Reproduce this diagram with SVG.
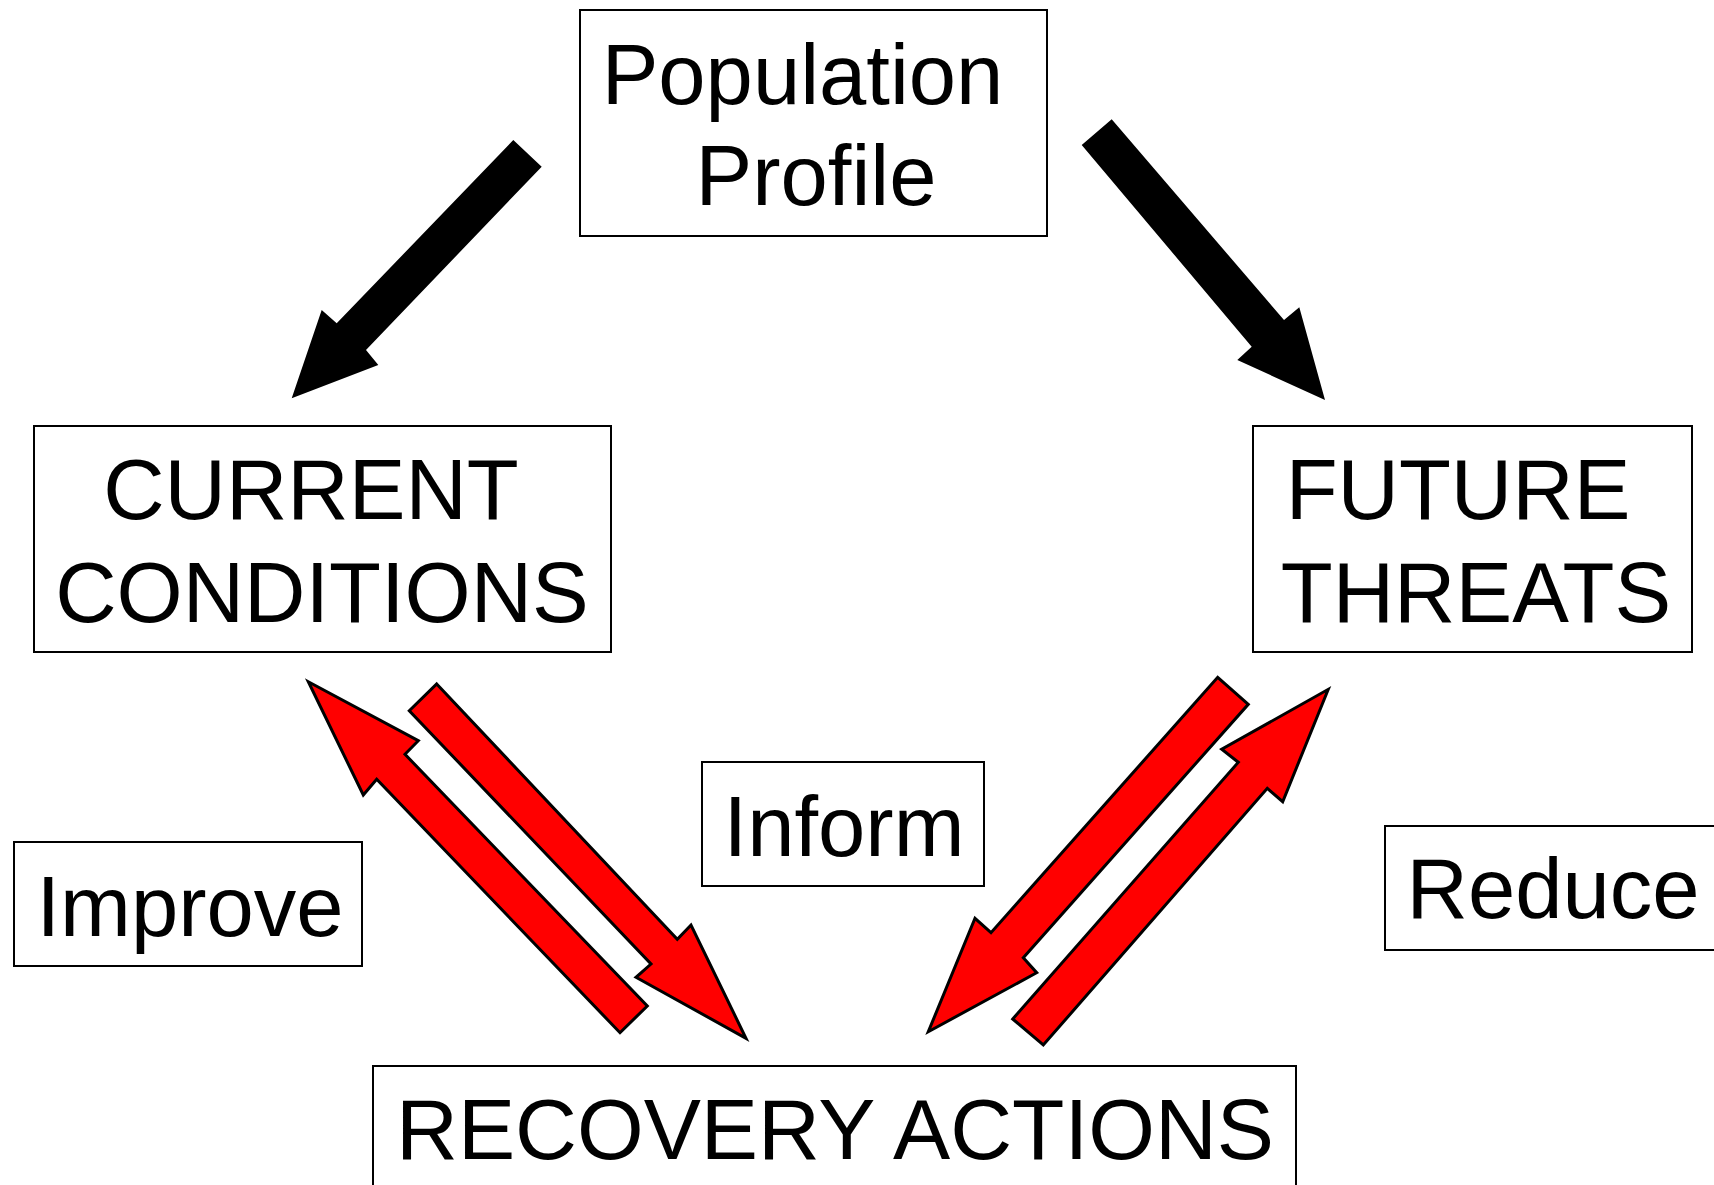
<svg xmlns="http://www.w3.org/2000/svg" width="1714" height="1185" viewBox="0 0 1714 1185">
<style>
.box{fill:#fff;stroke:#000;stroke-width:2}
.t{font-family:"Liberation Sans",Arial,sans-serif;font-size:85px;fill:#000;text-anchor:middle}
.blk{fill:#000;stroke:none}
.red{fill:#ff0000;stroke:#000;stroke-width:3;stroke-linejoin:miter}
</style>
<rect width="1714" height="1185" fill="#fff"/>
<g id="connectors">
<polygon class="blk" points="513.3,140 541.7,166.7 366,350 378.3,365 291.7,398.3 321.7,310 336.7,323.3"/>
<polygon class="blk" points="1111.7,119.3 1284,320 1299.3,307.3 1325,400 1237.3,360 1251.7,346.7 1081.7,145"/>
<polygon class="red" points="308.3,681.7 418.3,740.7 405,754.3 647.3,1006 620,1032.7 376.7,779.3 363.3,795"/>
<polygon class="red" points="436.7,684 677.3,939.3 691,925 746,1038.3 636,977.3 651,964 409.3,710.7"/>
<polygon class="red" points="1217.7,677.3 1248.3,704.3 1023.3,957.7 1036.7,972.7 928.3,1031.7 975,918.3 991,932.7"/>
<polygon class="red" points="1328.3,689.3 1282.7,801.7 1267.3,788.3 1043.3,1045 1012.7,1019 1238.3,762.3 1221.7,749.3"/>
</g>
<g id="population-profile">
<rect class="box" x="580" y="10" width="467" height="226"/>
<text class="t" x="802.5" y="104">Population</text>
<text class="t" x="816" y="205">Profile</text>
</g>
<g id="current-conditions">
<rect class="box" x="34" y="426" width="577" height="226"/>
<text class="t" x="311" y="519">CURRENT</text>
<text class="t" x="322" y="622">CONDITIONS</text>
</g>
<g id="future-threats">
<rect class="box" x="1253" y="426" width="439" height="226"/>
<text class="t" x="1458" y="519">FUTURE</text>
<text class="t" x="1476" y="622">THREATS</text>
</g>
<g id="improve">
<rect class="box" x="14" y="842" width="348" height="124"/>
<text class="t" x="190" y="936">Improve</text>
</g>
<g id="inform">
<rect class="box" x="702" y="762" width="282" height="124"/>
<text class="t" x="844" y="856">Inform</text>
</g>
<g id="reduce">
<rect class="box" x="1385" y="826" width="340" height="124"/>
<text class="t" x="1553" y="918">Reduce</text>
</g>
<g id="recovery-actions">
<rect class="box" x="373" y="1066" width="923" height="130"/>
<text class="t" x="835" y="1159" textLength="878" lengthAdjust="spacingAndGlyphs">RECOVERY ACTIONS</text>
</g>
</svg>
